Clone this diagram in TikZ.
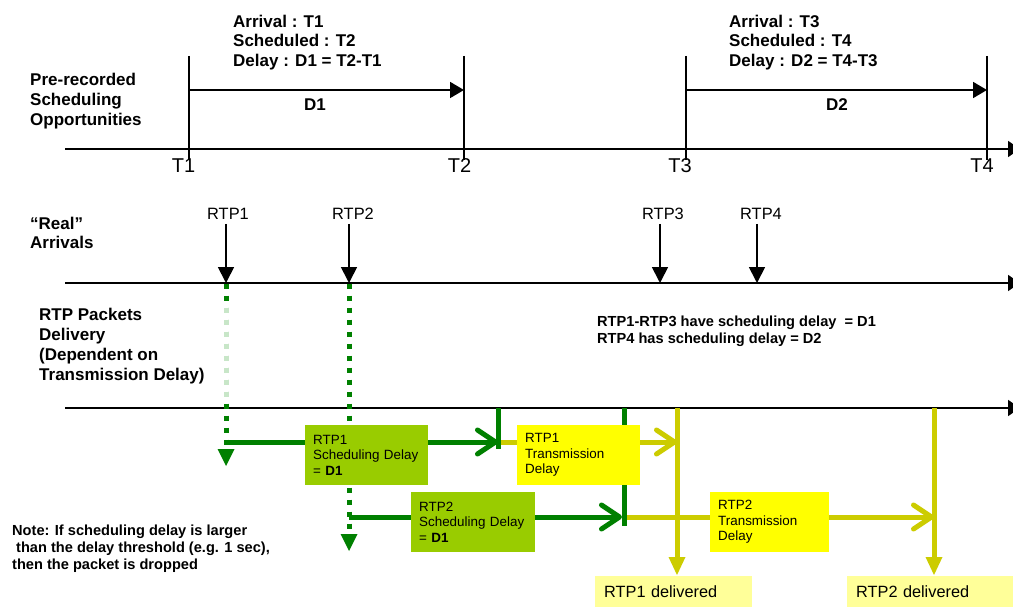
\documentclass[tikz,border=0pt]{standalone}
\usepackage{fontspec}
\setmainfont{Liberation Sans}
\usetikzlibrary{arrows.meta}
\definecolor{dkgreen}{RGB}{0,128,0}
\definecolor{lineyellow}{RGB}{204,204,0}
\definecolor{boxgreen}{RGB}{153,204,0}
\definecolor{boxyellow}{RGB}{255,255,0}
\definecolor{paleyellow}{RGB}{255,255,153}
\definecolor{fadegreen}{RGB}{200,230,200}
\begin{document}
\begin{tikzpicture}[x=1pt,y=-1pt,
  axisline/.style={line width=1.8pt,-{Triangle[length=12pt,width=16pt]}},
  tickline/.style={line width=1.8pt},
  darrow/.style={line width=1.8pt,-{Triangle[length=14pt,width=16pt]}},
  rtparrow/.style={line width=1.8pt,-{Triangle[length=16pt,width=16pt]}},
  dotline/.style={line width=5pt,dash pattern=on 5pt off 7pt},
  thickline/.style={line width=5pt},
  barb/.style={-{Straight Barb[length=18pt,width=24pt,round]}},
  bigbold/.style={font=\bfseries\fontsize{17}{20}\selectfont,inner sep=0pt,align=left,anchor=north west},
  smallbold/.style={font=\bfseries\fontsize{14.6}{17.3}\selectfont,inner sep=0pt,align=left,anchor=north west},
  tlabel/.style={font=\fontsize{20}{24}\selectfont,inner sep=0pt,anchor=base},
  rtplabel/.style={font=\fontsize{16.4}{19}\selectfont,inner sep=0pt,anchor=base},
  pbox/.style={anchor=north west,inner xsep=8pt,inner ysep=0pt,minimum height=60pt,align=left,font=\fontsize{13.4}{15.5}\selectfont},
  dbox/.style={anchor=north west,fill=paleyellow,inner xsep=9pt,inner ysep=0pt,minimum height=31pt,align=left,font=\fontsize{16.3}{19}\selectfont}
]
\useasboundingbox (0,0) rectangle (1013,607);

% ---------- top: pre-recorded scheduling opportunities ----------
\coordinate (A1s) at (65,149);  \coordinate (A1e) at (1020,149);
\draw[axisline] (A1s) -- (A1e);
\foreach \n/\x in {T1/189,T2/464,T3/686,T4/987}{
  \coordinate (\n top) at (\x,56);
  \coordinate (\n bot) at (\x,160);
  \draw[tickline] (\n top) -- (\n bot);
}
\coordinate (D1s) at (189,90); \coordinate (D1e) at (464,90);
\coordinate (D2s) at (686,90); \coordinate (D2e) at (987,90);
\draw[darrow] (D1s) -- (D1e);
\draw[darrow] (D2s) -- (D2e);

\node[bigbold] (pre) at (30,72.6) {Pre-recorded\\Scheduling\\Opportunities};
\node[bigbold,font=\bfseries\fontsize{17}{19.6}\selectfont] (info1) at (233,14.6) {Arrival : T1\\Scheduled : T2\\Delay : D1 = T2-T1};
\node[bigbold,font=\bfseries\fontsize{17}{19.6}\selectfont] (info2) at (729,14.6) {Arrival : T3\\Scheduled : T4\\Delay : D2 = T4-T3};
\node[bigbold,anchor=base] (d1lbl) at (315,111) {D1};
\node[bigbold,anchor=base] (d2lbl) at (837,111) {D2};
\node[tlabel] (t1lbl) at (183.5,173) {T1};
\node[tlabel] (t2lbl) at (459.5,173) {T2};
\node[tlabel] (t3lbl) at (680,173) {T3};
\node[tlabel] (t4lbl) at (982,173) {T4};

% ---------- middle: real arrivals ----------
\coordinate (A2s) at (65,283);  \coordinate (A2e) at (1020,283);
\draw[axisline] (A2s) -- (A2e);
\node[bigbold,font=\bfseries\fontsize{17}{19}\selectfont] (real) at (30,216.6) {“Real”\\Arrivals};
\foreach \n/\x/\lx in {1/226/228,2/349/353,3/660/663,4/757/761}{
  \node[rtplabel] (rtp\n) at (\lx,219) {RTP\n};
  \coordinate (rtp\n s) at (\x,224);
  \coordinate (rtp\n e) at (\x,283);
  \draw[rtparrow] (rtp\n s) -- (rtp\n e);
}
\node[smallbold] (note1) at (597,315.4) {RTP1-RTP3 have scheduling delay~ = D1\\RTP4 has scheduling delay = D2};

% ---------- bottom: packet delivery ----------
\coordinate (A3s) at (65,408);  \coordinate (A3e) at (1020,408);
\draw[axisline] (A3s) -- (A3e);
\node[bigbold] (deliv) at (39,307.6) {RTP Packets\\Delivery\\(Dependent on\\Transmission Delay)};
\node[smallbold] (note) at (12,524.4) {Note: If scheduling delay is larger\\\hspace*{4pt}than the delay threshold (e.g. 1 sec),\\then the packet is dropped};

% dotted green drops
\coordinate (p1a) at (226,283.5); \coordinate (p1b) at (226,449); \coordinate (p1c) at (226,466);
\coordinate (p2a) at (349,283.5); \coordinate (p2b) at (349,534); \coordinate (p2c) at (349,551);
\draw[dotline,dkgreen] (p1a) -- (p1b);
\begin{scope}
  \clip (210,304) rectangle (242,400);
  \draw[dotline,fadegreen] (p1a) -- (p1b);
\end{scope}
\draw[dotline,dkgreen] (p2a) -- (p2b);
\fill[dkgreen] (217.5,449) -- (234.5,449) -- (p1c) -- cycle;
\fill[dkgreen] (340.5,534) -- (357.5,534) -- (p2c) -- cycle;

% scheduling (green) and transmission (yellow) flows
\coordinate (g1s) at (226,442); \coordinate (g1e) at (498,442);
\coordinate (g2s) at (349,517); \coordinate (g2e) at (622,517);
\coordinate (k1t) at (498,408); \coordinate (k1b) at (498,449);
\coordinate (k2t) at (624,408); \coordinate (k2b) at (624,526);
\coordinate (y1s) at (499,442); \coordinate (y1e) at (677,442);
\coordinate (y2s) at (625,517); \coordinate (y2e) at (934,517);
\coordinate (v1t) at (677,408); \coordinate (v1b) at (677,558);
\coordinate (v2t) at (934,408); \coordinate (v2b) at (934,558);

\draw[thickline,lineyellow,barb] (y1s) -- (y1e);
\draw[thickline,lineyellow,barb] (y2s) -- (y2e);
\draw[thickline,lineyellow] (v1t) -- (v1b);
\draw[thickline,lineyellow] (v2t) -- (v2b);
\fill[lineyellow] (668.5,557) -- (685.5,557) -- (677,575) -- cycle;
\fill[lineyellow] (925.5,557) -- (942.5,557) -- (934,575) -- cycle;
\draw[thickline,dkgreen,barb] (g1s) -- (g1e);
\draw[thickline,dkgreen,barb] (g2s) -- (g2e);
\draw[thickline,dkgreen] (k1t) -- (k1b);
\draw[thickline,dkgreen] (k2t) -- (k2b);

\node[pbox,fill=boxgreen,text width=107pt] (s1) at (305,425) {RTP1\\Scheduling Delay\\= \textbf{D1}};
\node[pbox,fill=boxgreen,text width=108pt] (s2) at (411,492) {RTP2\\Scheduling Delay\\= \textbf{D1}};
\node[pbox,fill=boxyellow,text width=107pt] (x1) at (517,425) {RTP1\\Transmission\\Delay};
\node[pbox,fill=boxyellow,text width=103pt] (x2) at (710,492) {RTP2\\Transmission\\Delay};
\node[dbox,text width=139pt] (del1) at (595,576) {RTP1 delivered};
\node[dbox,text width=160pt] (del2) at (847,576) {RTP2 delivered};
\end{tikzpicture}
\end{document}
